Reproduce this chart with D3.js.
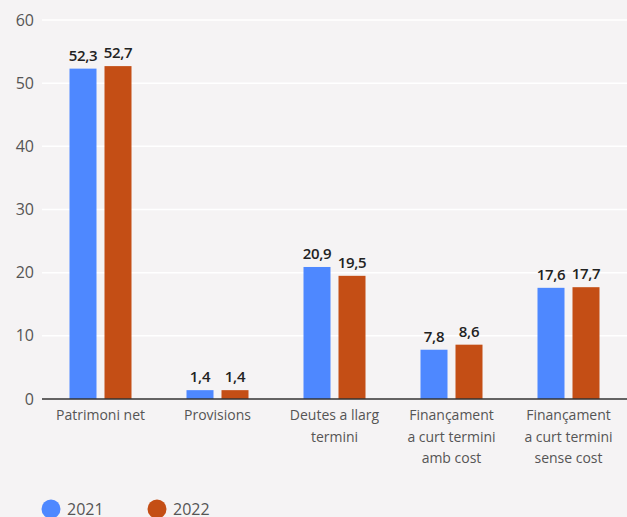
<!DOCTYPE html>
<html><head><meta charset="utf-8">
<script src="https://cdn.jsdelivr.net/npm/d3@7"></script>
<style>body{margin:0;background:#f5f3f4;}svg{display:block;font-family:"Open Sans",Lato,sans-serif;}</style>
</head><body><svg id="c" width="627" height="517"></svg>
<script>
const categories = [["Patrimoni net"],["Provisions"],["Deutes a llarg","termini"],["Finançament","a curt termini","amb cost"],["Finançament","a curt termini","sense cost"]];
const series2021 = [52.3,1.4,20.9,7.8,17.6];
const series2022 = [52.7,1.4,19.5,8.6,17.7];
const years = ["2021","2022"];
const yTicks = [0,10,20,30,40,50,60];
const colors = ["#4e88ff","#c44e15"];

const svg = d3.select("#c");
const mLeft = 42, mRight = 627, mTop = 20, mBottom = 399;
const x = d3.scaleBand().domain(d3.range(categories.length)).range([mLeft,mRight]);
const y = d3.scaleLinear().domain([0,60]).range([mBottom,mTop]);
const xs = d3.scaleBand().domain(years).range([0,62]).paddingInner(8/35);

svg.append("g").selectAll("line").data(yTicks.filter(d=>d>0)).join("line")
  .attr("x1",mLeft).attr("x2",mRight).attr("y1",d=>y(d)).attr("y2",d=>y(d))
  .attr("stroke","#ffffff").attr("stroke-width",1.5);

svg.append("g").selectAll("text").data(yTicks).join("text")
  .attr("x",34).attr("y",d=>y(d)).attr("dy","0.35em").attr("text-anchor","end")
  .attr("fill","#555").attr("font-size",16).text(d=>d);

const data = categories.map((c,i)=>({i, vals:[series2021[i],series2022[i]]}));
const g = svg.append("g").selectAll("g").data(data).join("g")
  .attr("transform",d=>`translate(${x(d.i)+x.bandwidth()/2-31},0)`);
years.forEach((yr,k)=>{
  g.append("rect").attr("x",xs(yr)).attr("width",xs.bandwidth())
    .attr("y",d=>y(d.vals[k])).attr("height",d=>mBottom-y(d.vals[k])).attr("fill",colors[k]);
  g.append("text").attr("x",xs(yr)+xs.bandwidth()/2).attr("y",d=>y(d.vals[k])-8)
    .attr("text-anchor","middle").attr("font-size",15).attr("font-weight",600).attr("fill","#222")
    .attr("letter-spacing",-0.3)
    .text(d=>d3.format(".1f")(d.vals[k]).replace(".",","));
});

svg.append("line").attr("x1",mLeft).attr("x2",mRight).attr("y1",mBottom).attr("y2",mBottom)
  .attr("stroke","#333").attr("stroke-width",1.5);

const cl = svg.append("g").selectAll("text").data(categories).join("text")
  .attr("x",(d,i)=>x(i)+x.bandwidth()/2).attr("y",420).attr("text-anchor","middle")
  .attr("fill","#555").attr("font-size",14);
cl.selectAll("tspan").data(d=>d).join("tspan")
  .attr("x",function(){return this.parentNode.getAttribute("x");})
  .attr("dy",(d,j)=>j===0?0:21.5).text(d=>d);

const lg = svg.append("g").selectAll("g").data(years).join("g")
  .attr("transform",(d,k)=>`translate(${51+k*106},509)`);
lg.append("circle").attr("r",9.5).attr("fill",(d,k)=>colors[k]);
lg.append("text").attr("x",16).attr("dy","0.35em").attr("font-size",16).attr("fill","#555").text(d=>d);
</script></body></html>
